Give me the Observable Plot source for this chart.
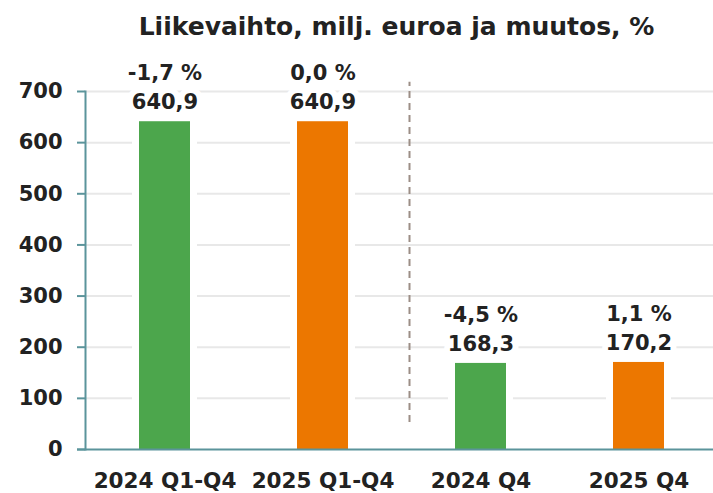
<!DOCTYPE html>
<html>
<head>
<meta charset="utf-8">
<script src="https://cdn.jsdelivr.net/npm/d3@7"></script>
<script src="https://cdn.jsdelivr.net/npm/@observablehq/plot@0.6"></script>
<style>
  html, body { margin: 0; padding: 0; background: #fff; overflow: hidden; }
  #title { height: 50px; box-sizing: border-box; padding-left: 80px; padding-top: 12px;
    text-align: center; font: bold 25px 'DejaVu Sans', sans-serif; color: #222; white-space: nowrap; }
</style>
</head>
<body>
<div id="title">Liikevaihto, milj. euroa ja muutos, %</div>
<div id="chart"></div>
<script>
const categories = ["2024 Q1-Q4", "2025 Q1-Q4", "2024 Q4", "2025 Q4"];
const years = ["2024", "2025", "2024", "2025"];
const values = [640.9, 640.9, 168.3, 170.2];
const changes = ["-1,7 %", "0,0 %", "-4,5 %", "1,1 %"];
const yTicks = [0, 100, 200, 300, 400, 500, 600, 700];
const separatorAfter = ["2025 Q1-Q4"];
const separatorSpan = [53, 718];

const data = categories.map((c, i) => ({
  category: c, year: years[i], value: values[i], change: changes[i],
  label: values[i].toFixed(1).replace(".", ",")
}));

const teal = "#5b949b";
const font = "'DejaVu Sans', sans-serif";

const chart = Plot.plot({
  width: 713,
  height: 443,
  marginLeft: 85,
  marginRight: -4,
  marginTop: 41,
  marginBottom: 44,
  style: { fontFamily: font, fontSize: "21px", fontWeight: "bold", color: "#222", background: "#fff" },
  x: { domain: categories, paddingInner: 0.68, paddingOuter: 0.34, label: null },
  y: { domain: [0, 700], ticks: yTicks, label: null },
  color: { domain: ["2024", "2025"], range: ["#4ca64c", "#ec7700"] },
  marks: [
    Plot.ruleY(yTicks.filter(d => d > 0), { stroke: "#e8e8e8", strokeWidth: 2 }),
    Plot.barY(data, { x: "category", y: "value", fill: "white", insetLeft: -7, insetRight: -7 }),
    Plot.barY(data, { x: "category", y: "value", fill: "year" }),
    Plot.ruleX(separatorAfter, { x: d => d, dx: 86.5, y1: separatorSpan[0], y2: separatorSpan[1], stroke: "#9c8e86", strokeWidth: 2, strokeDasharray: "7,5", clip: false }),
    Plot.text(data, { x: "category", y: "value", text: "label", dy: -19, stroke: "white", strokeWidth: 12, fill: "#222", fontSize: 21 }),
    Plot.text(data, { x: "category", y: "value", text: "change", dy: -48, stroke: "white", strokeWidth: 12, fill: "#222", fontSize: 21 }),
    Plot.frame({ anchor: "left", stroke: teal, strokeWidth: 2 }),
    Plot.ruleY([0], { stroke: teal, strokeWidth: 2, insetLeft: -8 }),
    Plot.axisY({ ticks: yTicks, tickSize: 8, tickPadding: 15, stroke: teal, strokeWidth: 2, fill: "#222", fontSize: 21, label: null }),
    Plot.axisX({ tickSize: 0, tickPadding: 23, fill: "#222", fontSize: 21.5, label: null })
  ]
});
document.getElementById("chart").appendChild(chart);
</script>
</body>
</html>
